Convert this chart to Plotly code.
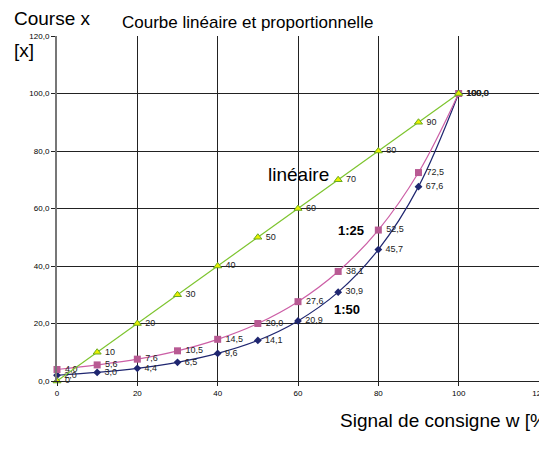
import plotly.graph_objects as go

signal = [0, 10, 20, 30, 40, 50, 60, 70, 80, 90, 100]
lineaire = [0, 10, 20, 30, 40, 50, 60, 70, 80, 90, 100]
prop_25 = [4.0, 5.6, 7.6, 10.5, 14.5, 20.0, 27.6, 38.1, 52.5, 72.5, 100.0]
prop_50 = [2.0, 3.0, 4.4, 6.5, 9.6, 14.1, 20.9, 30.9, 45.7, 67.6, 100.0]

x_ticks = [0, 20, 40, 60, 80, 100, 120]
y_ticks = [0, 20, 40, 60, 80, 100, 120]


def fr(v):
    return ("%.1f" % v).replace(".", ",")


fig = go.Figure()

fig.add_trace(go.Scatter(
    x=signal, y=prop_50, mode="lines+markers+text",
    line=dict(color="#1f2670", width=1.2, shape="spline"),
    marker=dict(symbol="diamond", size=6, color="#1f2670"),
    text=[" " + fr(v) for v in prop_50], textposition="middle right",
    textfont=dict(size=9, color="#222", family="Liberation Sans"),
    cliponaxis=False,
))
fig.add_trace(go.Scatter(
    x=signal, y=prop_25, mode="lines+markers+text",
    line=dict(color="#cc5fa6", width=1.2, shape="spline"),
    marker=dict(symbol="square", size=7, color="#b85a93"),
    text=[" " + fr(v) for v in prop_25], textposition="middle right",
    textfont=dict(size=9, color="#222", family="Liberation Sans"),
    cliponaxis=False,
))
fig.add_trace(go.Scatter(
    x=signal, y=lineaire, mode="lines+markers+text",
    line=dict(color="#7dc42e", width=1.2),
    marker=dict(symbol="triangle-up", size=7, color="#e8f000",
                line=dict(color="#6aaa20", width=1)),
    text=[" %d" % v for v in lineaire], textposition="middle right",
    textfont=dict(size=9, color="#222", family="Liberation Sans"),
    cliponaxis=False,
))

# the page puts an 8px body margin around the figure
fig.update_layout(
    width=539, height=444,
    margin=dict(l=49, r=8, t=28, b=71),
    paper_bgcolor="white", plot_bgcolor="white",
    showlegend=False,
    font=dict(family="Liberation Sans", color="black"),
    xaxis=dict(range=[0, 120], tickvals=x_ticks, ticktext=[str(v) for v in x_ticks],
               showgrid=True, gridcolor="#222", gridwidth=1, zeroline=False,
               showline=True, linecolor="#222", ticks="outside", ticklen=4,
               tickcolor="#222", tickfont=dict(size=8), automargin=False),
    yaxis=dict(range=[0, 120], tickvals=y_ticks, ticktext=[fr(v) for v in y_ticks],
               showgrid=True, gridcolor="#222", gridwidth=1, zeroline=False,
               showline=True, linecolor="#777", linewidth=2, mirror=True,
               ticks="outside", ticklen=4,
               tickcolor="#222", tickfont=dict(size=8), automargin=False),
    annotations=[
        dict(text="Courbe linéaire et proportionnelle", xref="paper", yref="paper",
             x=0.395, y=1, yshift=14, yanchor="middle", showarrow=False, font=dict(size=17)),
        dict(text="Course x", xref="paper", yref="paper", x=0, xshift=-45, y=1,
             yshift=18, yanchor="middle", xanchor="left", showarrow=False, font=dict(size=19)),
        dict(text="[x]", xref="paper", yref="paper", x=0, xshift=-45, y=1,
             yshift=-14, yanchor="middle", xanchor="left", showarrow=False, font=dict(size=19)),
        dict(text="Signal de consigne w [%]", xref="paper", yref="paper", x=0.583,
             y=0, yshift=-39, yanchor="middle", xanchor="left", showarrow=False,
             font=dict(size=19)),
        dict(text="linéaire", x=60, y=71.7, showarrow=False, font=dict(size=19)),
        dict(text="<b>1:25</b>", x=73.1, y=52.5, showarrow=False, font=dict(size=13)),
        dict(text="<b>1:50</b>", x=72.3, y=24.7, showarrow=False, font=dict(size=13)),
    ],
)

fig.write_html("out.html")
